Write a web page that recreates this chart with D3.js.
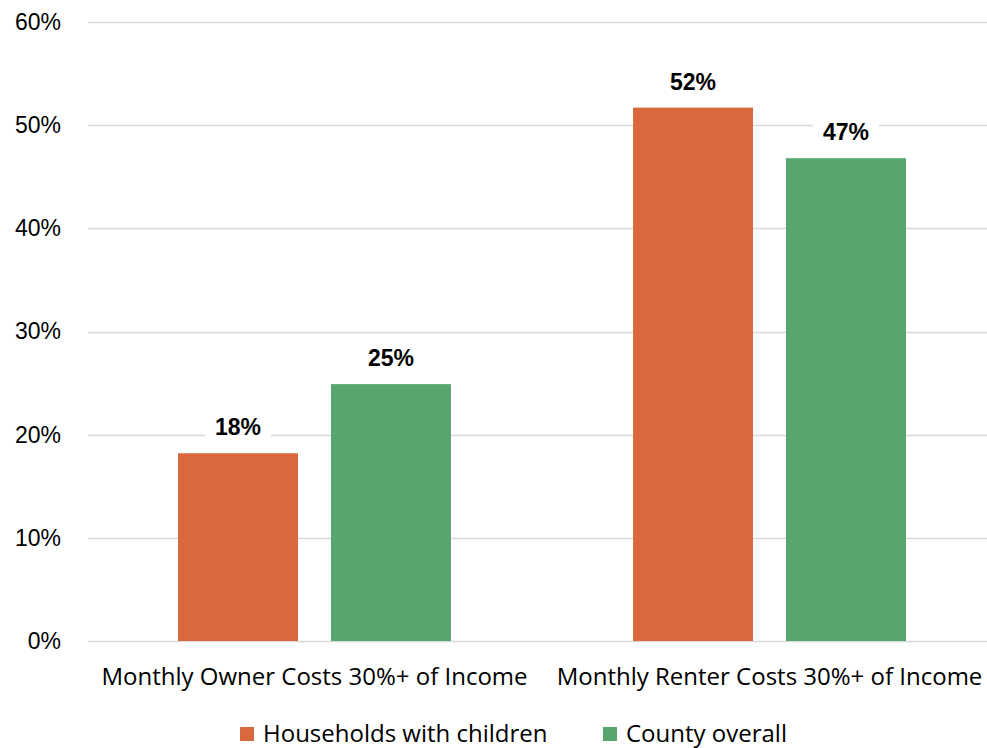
<html>
<head>
<script src="https://d3js.org/d3.v7.min.js"></script>
<style>
  body { margin: 0; background: #fff; }
</style>
</head>
<body>
<svg id="chart" width="987" height="748"></svg>
<script>
const categories = ["Monthly Owner Costs 30%+ of Income", "Monthly Renter Costs 30%+ of Income"];
const series = ["Households with children", "County overall"];
const householdsWithChildren = [0.182, 0.517];
const countyOverall = [0.249, 0.468];
const yTicks = [0, 0.1, 0.2, 0.3, 0.4, 0.5, 0.6];
const colors = ["#d9693c", "#58a66f"];

const rows = categories.map((c, i) => ({
  category: c,
  values: [
    { series: series[0], value: householdsWithChildren[i] },
    { series: series[1], value: countyOverall[i] }
  ]
}));

const svg = d3.select("svg#chart");
const margins = { top: 22, left: 87, bottom: 107 };
const plotRight = 997;
const chartHeight = 748 - margins.top - margins.bottom;

const x0 = d3.scaleBand().domain(categories).range([margins.left, plotRight]).padding(0);
const x1 = d3.scaleBand().domain(series).range([0, x0.bandwidth()])
  .paddingInner(0.2157).paddingOuter(0.595);
const y = d3.scaleLinear().domain([0, 0.6]).range([margins.top + chartHeight, margins.top]);
const color = d3.scaleOrdinal().domain(series).range(colors);

// gridlines
svg.append("g").selectAll("line").data(yTicks).join("line")
  .attr("x1", 88).attr("x2", 987)
  .attr("y1", d => Math.round(y(d)) + 0.5).attr("y2", d => Math.round(y(d)) + 0.5)
  .attr("stroke", "#d9d9d9").attr("stroke-width", 1.5);

// y axis labels
const yAxis = d3.axisLeft(y).tickValues(yTicks).tickFormat(d3.format(".0%")).tickSize(0).tickPadding(0);
const yg = svg.append("g").attr("transform", "translate(61,0)").call(yAxis);
yg.select(".domain").remove();
yg.selectAll("text")
  .attr("font-family", "Liberation Sans, Arial, sans-serif")
  .attr("font-size", 23).attr("fill", "#000");

// bars
const groups = svg.append("g").selectAll("g").data(rows).join("g")
  .attr("transform", d => `translate(${x0(d.category)},0)`);

groups.selectAll("rect").data(d => d.values).join("rect")
  .attr("x", d => x1(d.series))
  .attr("y", d => y(d.value))
  .attr("width", x1.bandwidth())
  .attr("height", d => y(0) - y(d.value))
  .attr("fill", d => color(d.series));

// data labels with white background
const labels = groups.selectAll("g.lbl").data(d => d.values).join("g").attr("class", "lbl")
  .attr("transform", d => `translate(${x1(d.series) + x1.bandwidth() / 2},${y(d.value) - 18})`);
labels.append("rect")
  .attr("x", -33).attr("y", -23).attr("width", 66).attr("height", 29)
  .attr("fill", "#fff");
labels.append("text")
  .attr("text-anchor", "middle")
  .attr("font-family", "Liberation Sans, Arial, sans-serif")
  .attr("font-weight", "bold").attr("font-size", 23)
  .attr("fill", "#000")
  .text(d => d3.format(".0%")(d.value));

// category labels
const xAxis = d3.axisBottom(x0).tickSize(0).tickPadding(0);
const xg = svg.append("g").attr("transform", "translate(0,685)").call(xAxis);
xg.select(".domain").remove();
xg.selectAll("text")
  .attr("y", 0).attr("dy", 0)
  .attr("font-family", "Open Sans, sans-serif")
  .attr("font-size", 24).attr("fill", "#000");

// legend
const legendX = [240, 603];
const legend = svg.append("g").selectAll("g").data(series).join("g")
  .attr("transform", (d, i) => `translate(${legendX[i]},727)`);
legend.append("rect").attr("width", 14).attr("height", 14).attr("fill", d => color(d));
legend.append("text")
  .attr("x", 23).attr("y", 15)
  .attr("font-family", "Open Sans, sans-serif")
  .attr("font-size", 24).attr("fill", "#000")
  .text(d => d);
</script>
</body>
</html>
